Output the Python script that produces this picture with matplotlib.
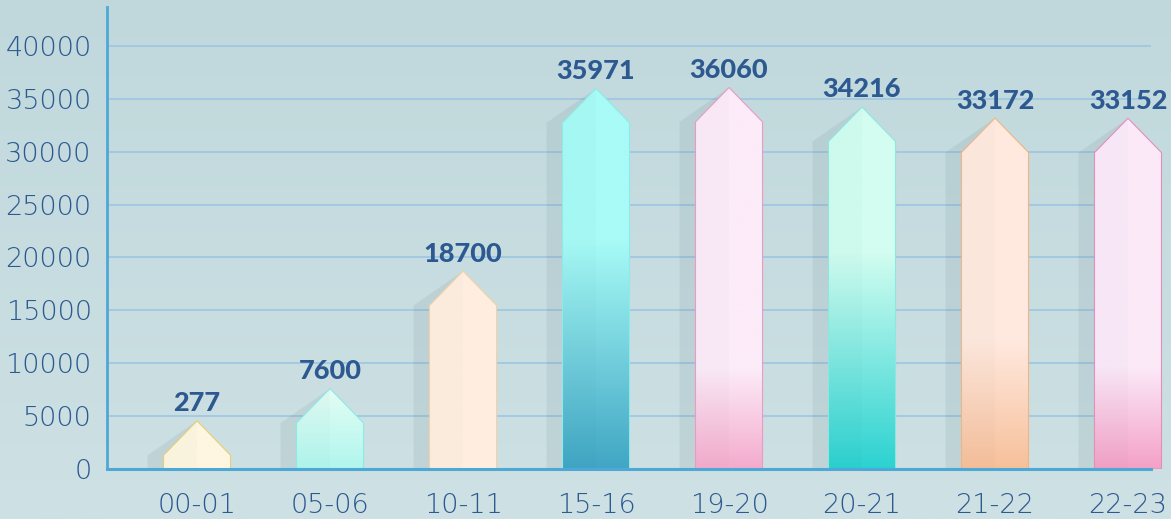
import numpy as np
import matplotlib.pyplot as plt
from matplotlib.colors import to_rgb
from matplotlib.patches import Polygon

# data
seasons = ["00-01", "05-06", "10-11", "15-16", "19-20", "20-21", "21-22", "22-23"]
values = [277, 7600, 18700, 35971, 36060, 34216, 33172, 33152]

# bar colours: top colour, bottom colour, height where the fade reaches the top colour
top_colors = ["#fef6e0", "#e6fdf4", "#ffeee0", "#a8fbf6", "#fcebf8", "#d2fdf0", "#ffe9df", "#fbe9f8"]
bottom_colors = ["#fef6e0", "#b0f6ee", "#ffeee0", "#40a6c4", "#f4abcd", "#2bd2d1", "#f7c09a", "#f4a1c7"]
fade_tops = [1, 7800, 1, 21600, 9400, 20400, 12200, 9600]
edge_colors = ["#e4cf78", "#8de9e3", "#f3d2a6", "#8cebea", "#e99bc1", "#8ee7df", "#efb589", "#e48fba"]

text_blue = "#2d5991"
axis_blue = "#4ea8d6"
grid_blue = "#9dc5e2"

x_left, x_right, y_top = -0.677, 7.173, 43670
half_w = 0.252
head = 3250
min_tip = 4550
shadow_dx = 0.12

fig = plt.figure(figsize=(11.71, 5.19), dpi=100)

# background gradient
bg = fig.add_axes([0, 0, 1, 1], zorder=-1)
c_top, c_bot = np.array(to_rgb("#c0d8dc")), np.array(to_rgb("#cee1e4"))
t = np.linspace(0, 1, 256)[:, None, None]
bg.imshow(c_top + (c_bot - c_top) * t, aspect="auto", extent=[0, 1, 0, 1])
bg.axis("off")

ax = fig.add_axes([107 / 1171, 50 / 519, (1171 - 107) / 1171, 462 / 519])
ax.set_facecolor("none")
ax.set_xlim(x_left, x_left + (x_right - x_left) * 1064 / 1044)
ax.set_ylim(0, y_top)

# grid
for yv in range(5000, 40001, 5000):
    ax.hlines(yv, x_left, x_right, color=grid_blue, lw=1.2, zorder=1)

for i, v in enumerate(values):
    tip = max(v, min_tip)
    sh = tip - head
    l, r = i - half_w, i + half_w

    shadow = Polygon([(l - shadow_dx, 0), (l - shadow_dx, sh), (i, tip), (i, 0)],
                     closed=True, facecolor="#2f4f55", alpha=0.08, edgecolor="none", zorder=2)
    ax.add_patch(shadow)

    shape = [(l, 0), (l, sh), (i, tip), (r, sh), (r, 0)]
    outline = Polygon(shape, closed=True, facecolor="none", edgecolor=edge_colors[i], lw=0.8, zorder=4)
    ax.add_patch(outline)

    ys = np.linspace(0, tip, 300)
    f = np.clip(ys / fade_tops[i], 0, 1)[:, None, None]
    ct, cb = np.array(to_rgb(top_colors[i])), np.array(to_rgb(bottom_colors[i]))
    img = cb + (ct - cb) * f
    im = ax.imshow(img, origin="lower", aspect="auto", extent=[l, r, 0, tip], zorder=3)
    im.set_clip_path(outline)

    # slightly darker left half for a 3d look
    left_half = Polygon([(l, 0), (l, sh), (i, tip), (i, 0)], closed=True,
                        facecolor="#0b3a4a", alpha=0.015, edgecolor="none", zorder=3.5)
    ax.add_patch(left_half)

    ax.annotate(f"{v}", (i, tip), xytext=(0, 4), textcoords="offset points",
                ha="center", va="bottom", fontsize=19.5, fontweight="black",
                family="Lato", color=text_blue, zorder=5)

for s in ["top", "right"]:
    ax.spines[s].set_visible(False)
ax.spines["left"].set_color(axis_blue)
ax.spines["left"].set_linewidth(2)
ax.spines["bottom"].set_color(axis_blue)
ax.spines["bottom"].set_linewidth(2.2)
ax.spines["bottom"].set_bounds(x_left, x_right)
ax.spines["bottom"].set_zorder(6)

ax.set_yticks(range(0, 40001, 5000))
ax.set_xticks(range(len(seasons)))
ax.set_xticklabels(seasons)
ax.tick_params(axis="y", length=0, pad=11, labelsize=19.5, labelcolor=text_blue)
ax.tick_params(axis="x", length=0, pad=17, labelsize=19.5, labelcolor=text_blue)
for lab in ax.get_xticklabels() + ax.get_yticklabels():
    lab.set_fontweight("light")

fig.savefig("out.png", dpi=100)
